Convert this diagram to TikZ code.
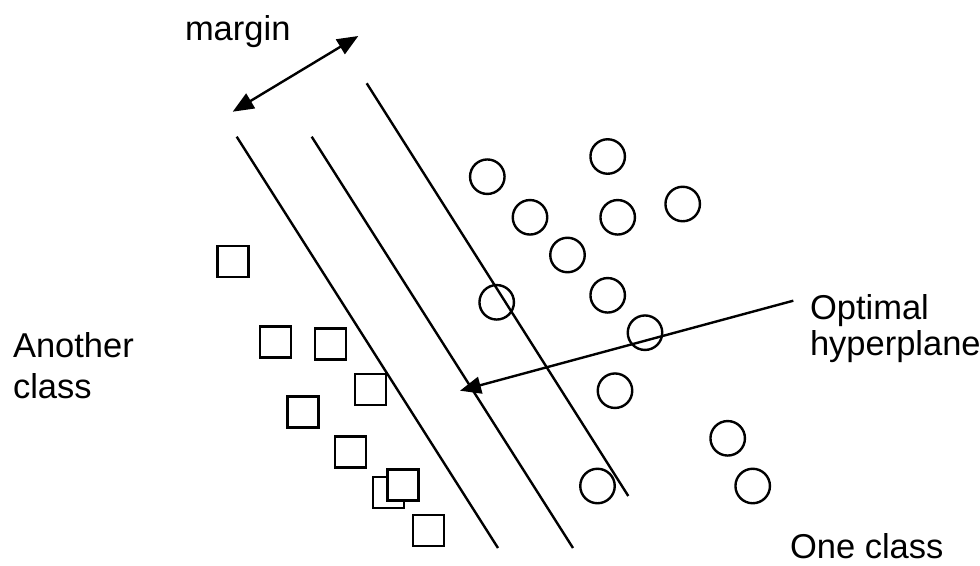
\documentclass[tikz,border=0pt]{standalone}
\usepackage{fontspec}
\setmainfont{Liberation Sans}
\usetikzlibrary{arrows.meta}
\begin{document}
\begin{tikzpicture}[x=1pt,y=-1pt,
  lbl/.style={anchor=base west,inner sep=0pt,outer sep=0pt,font=\fontsize{34.5pt}{40pt}\selectfont},
  sep/.style={line width=2.4pt},
  sq/.style={draw,line width=2.4pt,fill=white,rectangle,minimum size=31pt,inner sep=0pt},
  circ/.style={draw,line width=2.4pt,circle,minimum size=34.5pt,inner sep=0pt},
  arr/.style={line width=2.4pt,-{Triangle[length=21pt,width=17pt]}},
  darr/.style={line width=2.4pt,{Triangle[length=21pt,width=17pt]}-{Triangle[length=21pt,width=17pt]}}]
\useasboundingbox[fill=white] (0,0) rectangle (980,565);
% separating lines
\coordinate (l1a) at (236.7,136.7); \coordinate (l1b) at (498,548);
\coordinate (l2a) at (311.7,136.7); \coordinate (l2b) at (573,548);
\coordinate (l3a) at (366.7,83.3);  \coordinate (l3b) at (628.3,496);
\draw[sep] (l1a) -- (l1b);
\draw[sep] (l2a) -- (l2b);
\draw[sep] (l3a) -- (l3b);
% margin arrow
\coordinate (ma) at (232.7,111.7);
\coordinate (mb) at (358.3,36);
\draw[darr] (ma) -- (mb);
% squares
\node[sq] (s1) at (233,261.3) {};
\node[sq] (s2) at (275.3,342) {};
\node[sq] (s3) at (330.5,344) {};
\node[sq] (s4) at (370.5,389.5) {};
\node[sq] (s5) at (303,412) {};
\node[sq] (s6) at (350.7,452) {};
\node[sq] (s7) at (388.3,492.5) {};
\node[sq] (s8) at (403,485) {};
\node[sq] (s9) at (428.5,530.3) {};
% circles
\node[circ] (c1) at (487.3,176.7) {};
\node[circ] (c2) at (607.7,156.5) {};
\node[circ] (c3) at (530,217.3) {};
\node[circ] (c4) at (617.7,217.3) {};
\node[circ] (c5) at (682.7,204) {};
\node[circ] (c6) at (567.5,255) {};
\node[circ] (c7) at (496.7,302.3) {};
\node[circ] (c8) at (607.7,295.3) {};
\node[circ] (c9) at (645,332.7) {};
\node[circ] (c10) at (615,390.7) {};
\node[circ] (c11) at (727.7,438.3) {};
\node[circ] (c12) at (752.7,486) {};
\node[circ] (c13) at (597.5,486) {};
% labels
\node[lbl] (margin) at (185,40) {margin};
\node[lbl] (ano1) at (13,357.3) {Another};
\node[lbl] (ano2) at (13,398.3) {class};
\node[lbl] (opt1) at (810,319.3) {Optimal};
\node[lbl] (opt2) at (810,355) {hyperplane};
\node[lbl] (one) at (790,558.5) {One class};
% optimal hyperplane pointer
\coordinate (pa) at (793.3,300.7);
\coordinate (pb) at (460,390.7);
\draw[arr] (pa) -- (pb);
\end{tikzpicture}
\end{document}
